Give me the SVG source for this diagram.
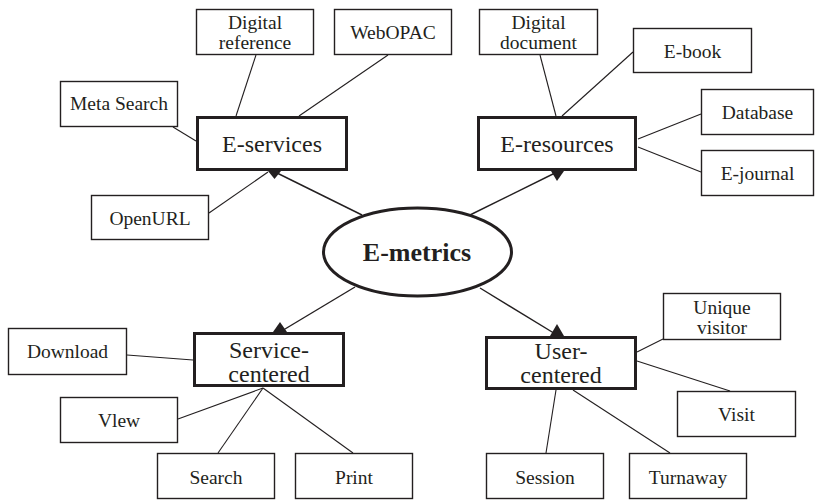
<svg xmlns="http://www.w3.org/2000/svg" width="815" height="500" viewBox="0 0 815 500">
<style>
.bg{fill:#fff}
.box{fill:#fff;stroke:#231f20;stroke-width:1.4}
.main{fill:#fff;stroke:#231f20;stroke-width:3}
.t{font-family:"Liberation Serif","Times New Roman",serif;font-size:19.5px;fill:#231f20;text-anchor:middle}
.m{font-family:"Liberation Serif","Times New Roman",serif;font-size:24px;fill:#231f20;text-anchor:middle}
.c{font-family:"Liberation Serif","Times New Roman",serif;font-size:26px;font-weight:bold;fill:#231f20;text-anchor:middle}
.ln{stroke:#231f20;stroke-width:1.1;fill:none}
.ar{stroke:#231f20;stroke-width:1.4;fill:none}
.hd{fill:#231f20}
</style>
<rect class="bg" x="0" y="0" width="815" height="500"/>
<g id="connectors">
<line class="ln" x1="256" y1="55" x2="236" y2="116"/>
<line class="ln" x1="388" y1="55" x2="299" y2="116"/>
<line class="ln" x1="173" y1="127" x2="196" y2="141"/>
<line class="ln" x1="209" y1="213" x2="268" y2="172"/>
<line class="ln" x1="540" y1="55" x2="556" y2="116"/>
<line class="ln" x1="633" y1="52" x2="562" y2="116"/>
<line class="ln" x1="701" y1="114" x2="638" y2="139"/>
<line class="ln" x1="701" y1="172" x2="638" y2="147"/>
<line class="ln" x1="127" y1="355" x2="193" y2="360"/>
<line class="ln" x1="178" y1="419" x2="263" y2="388"/>
<line class="ln" x1="218" y1="453" x2="263" y2="388"/>
<line class="ln" x1="353" y1="453" x2="263" y2="388"/>
<line class="ln" x1="663" y1="339" x2="637" y2="352"/>
<line class="ln" x1="730" y1="391" x2="637" y2="361"/>
<line class="ln" x1="546" y1="453" x2="556" y2="390"/>
<line class="ln" x1="670" y1="453" x2="573" y2="390"/>
<line class="ar" x1="362" y1="215" x2="275" y2="172"/>
<line class="ar" x1="470" y1="215" x2="557" y2="172"/>
<line class="ar" x1="355" y1="287" x2="280" y2="332"/>
<line class="ar" x1="480" y1="288" x2="557" y2="335"/>
<polygon class="hd" points="268,171 281,171 274.5,179"/>
<polygon class="hd" points="551,171 564,171 557,181"/>
<polygon class="hd" points="273,332 287,332 280,322"/>
<polygon class="hd" points="550,336 564,336 557,324"/>
</g>
<g id="emetrics">
<ellipse cx="417.5" cy="252" rx="94" ry="44" fill="#fff" stroke="#231f20" stroke-width="3"/>
<text class="c" x="417" y="261">E-metrics</text>
</g>
<g id="eservices">
<rect class="main" x="197.5" y="117.5" width="149" height="52"/>
<text class="m" x="272" y="152">E-services</text>
</g>
<g id="eresources">
<rect class="main" x="478.5" y="117.5" width="157" height="52"/>
<text class="m" x="557" y="152">E-resources</text>
</g>
<g id="servicecentered">
<rect class="main" x="194.5" y="333.5" width="149" height="52"/>
<text class="m" x="269" y="358">Service-</text>
<text class="m" x="269" y="382">centered</text>
</g>
<g id="usercentered">
<rect class="main" x="486.5" y="337.5" width="149" height="51"/>
<text class="m" x="561" y="359">User-</text>
<text class="m" x="561" y="383">centered</text>
</g>
<g id="digitalreference">
<rect class="box" x="196.5" y="9.5" width="117" height="45"/>
<text class="t" x="255" y="29">Digital</text>
<text class="t" x="255" y="49">reference</text>
</g>
<g id="webopac">
<rect class="box" x="334.5" y="9.5" width="117" height="45"/>
<text class="t" x="393" y="39">WebOPAC</text>
</g>
<g id="metasearch">
<rect class="box" x="60.5" y="81.5" width="117" height="45"/>
<text class="t" x="119" y="110">Meta Search</text>
</g>
<g id="openurl">
<rect class="box" x="91.5" y="195.5" width="117" height="44"/>
<text class="t" x="150" y="225">OpenURL</text>
</g>
<g id="digitaldocument">
<rect class="box" x="479.5" y="9.5" width="118" height="45"/>
<text class="t" x="538.5" y="29">Digital</text>
<text class="t" x="538.5" y="49">document</text>
</g>
<g id="ebook">
<rect class="box" x="633.5" y="28.5" width="118" height="44"/>
<text class="t" x="692.5" y="58">E-book</text>
</g>
<g id="database">
<rect class="box" x="701.5" y="89.5" width="112" height="45"/>
<text class="t" x="757.5" y="119">Database</text>
</g>
<g id="ejournal">
<rect class="box" x="701.5" y="150.5" width="112" height="45"/>
<text class="t" x="757.5" y="180">E-journal</text>
</g>
<g id="download">
<rect class="box" x="8.5" y="328.5" width="118" height="46"/>
<text class="t" x="67.5" y="358">Download</text>
</g>
<g id="view">
<rect class="box" x="60.5" y="397.5" width="117" height="45"/>
<text class="t" x="119" y="427">Vlew</text>
</g>
<g id="search">
<rect class="box" x="157.5" y="453.5" width="117" height="45"/>
<text class="t" x="216" y="484">Search</text>
</g>
<g id="print">
<rect class="box" x="295.5" y="453.5" width="117" height="45"/>
<text class="t" x="354" y="484">Print</text>
</g>
<g id="uniquevisitor">
<rect class="box" x="663.5" y="293.5" width="117" height="46"/>
<text class="t" x="722" y="314">Unique</text>
<text class="t" x="722" y="334">visitor</text>
</g>
<g id="visit">
<rect class="box" x="677.5" y="391.5" width="118" height="45"/>
<text class="t" x="736.5" y="421">Visit</text>
</g>
<g id="session">
<rect class="box" x="486.5" y="453.5" width="117" height="45"/>
<text class="t" x="545" y="484">Session</text>
</g>
<g id="turnaway">
<rect class="box" x="629.5" y="453.5" width="117" height="45"/>
<text class="t" x="688" y="484">Turnaway</text>
</g>
</svg>
